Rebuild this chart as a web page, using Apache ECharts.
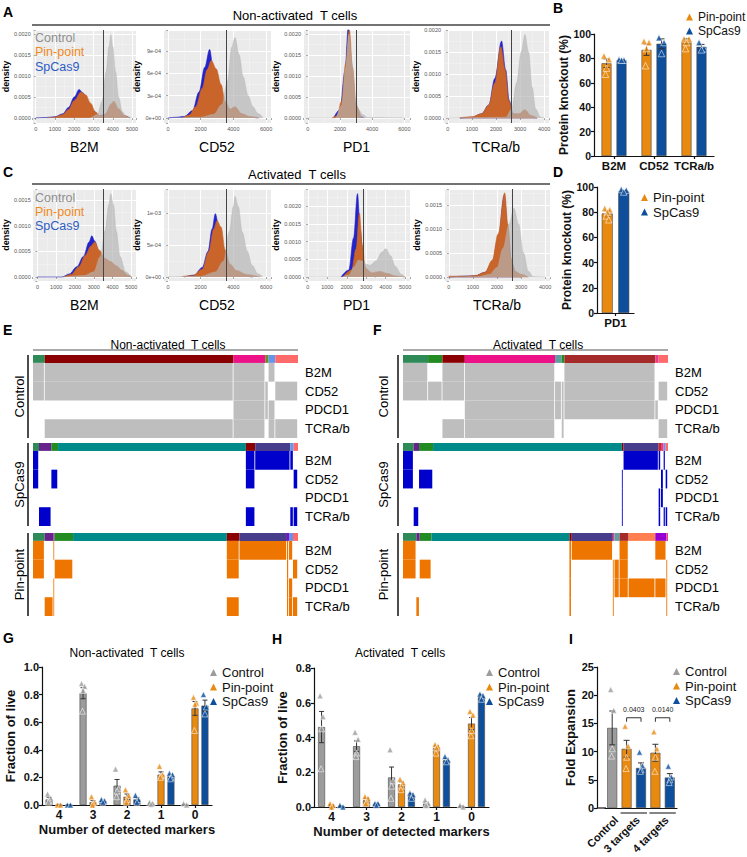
<!DOCTYPE html>
<html>
<head>
<meta charset="utf-8">
<title>Pin-point vs SpCas9 multiplex knockout</title>
<script src="https://cdn.jsdelivr.net/npm/echarts@6/dist/echarts.min.js"></script>
<style>
  html, body { margin: 0; padding: 0; background: #fff; }
  #chart { width: 747px; height: 857px; }
</style>
</head>
<body>
<div id="chart"></div>
<script>
// ---------- data ----------
// density curves [intensity, density], read off panels A (non-activated) and C (activated)
const aB2mCtrl = [[0,0],[2800,0],[3200,0.00008],[3450,0.0004],[3650,0.0011],[3800,0.0017],[3900,0.002],[4000,0.0017],[4150,0.0011],[4300,0.0005],[4500,0.00015],[4700,0.00003],[4950,0]];
const aB2mSp = [[0,0],[500,0.00001],[1000,0.00003],[1400,0.0001],[1700,0.00025],[2000,0.0005],[2250,0.00068],[2450,0.0006],[2700,0.0004],[3000,0.00017],[3300,0.00005],[3600,0.00008],[3900,0.00028],[4050,0.00032],[4300,0.00018],[4600,0.00005],[4900,0]];
const aB2mPin = [[600,0],[1000,0.00002],[1400,0.00008],[1700,0.0002],[2000,0.00042],[2350,0.00062],[2600,0.00055],[2850,0.00035],[3100,0.00014],[3350,0.00005],[3650,0.0001],[3900,0.00033],[4050,0.0004],[4300,0.00022],[4600,0.00006],[4850,0]];

const aCd52Ctrl = [[0,0],[2000,0.00001],[2800,0.00005],[3300,0.00018],[3650,0.0005],[3900,0.00095],[4100,0.00108],[4350,0.00085],[4600,0.00055],[4900,0.0003],[5200,0.00015],[5500,0.00006],[5800,0.00001]];
const aCd52Sp = [[0,0],[500,0.00001],[1000,0.00002],[1500,0.0001],[1900,0.00035],[2250,0.00068],[2550,0.00092],[2800,0.0006],[3100,0.00032],[3400,0.00015],[3800,0.0001],[4100,0.00012],[4500,0.00005],[5000,0.00001],[5500,0]];
const aCd52Pin = [[900,0],[1300,0.00004],[1700,0.00015],[2100,0.0004],[2400,0.00065],[2650,0.00077],[2950,0.00066],[3250,0.00045],[3500,0.00022],[3800,0.00012],[4100,0.00015],[4500,0.00006],[5000,0.00002],[5600,0]];

const aPd1Ctrl = [[0,0],[1700,0],[2100,0.0003],[2350,0.0012],[2550,0.002],[2750,0.0013],[2950,0.0005],[3150,0.0002],[3400,0.00008],[3700,0.00001],[6000,0]];
const aPd1Sp = [[1600,0],[2000,0.0002],[2300,0.0011],[2520,0.0022],[2700,0.0013],[2900,0.0004],[3150,0.00005],[3500,0]];
const aPd1Pin = [[1500,0],[1800,0.00005],[2100,0.0004],[2350,0.0013],[2580,0.0021],[2780,0.0012],[3000,0.0003],[3300,0.00002]];

const aTcrCtrl = [[0,0],[2400,0.00002],[2650,0.0002],[2850,0.0008],[3050,0.0015],[3200,0.0019],[3350,0.0015],[3500,0.0007],[3650,0.0002],[3850,0.00002],[4000,0]];
const aTcrSp = [[500,0],[1000,0.00002],[1400,0.0001],[1700,0.0003],[1950,0.0009],[2230,0.00175],[2400,0.0011],[2550,0.0004],[2700,0.0001],[2950,0.00008],[3200,0.00016],[3450,0.00004],[3700,0]];
const aTcrPin = [[500,0.00001],[1000,0.00003],[1400,0.0001],[1700,0.0003],[1950,0.0008],[2200,0.00162],[2380,0.0011],[2530,0.0004],[2700,0.0001],[2950,0.0001],[3200,0.00019],[3450,0.00006],[3700,0]];

const cB2mCtrl = [[0,0],[1300,0],[2500,0.00003],[3000,0.0001],[3350,0.0004],[3600,0.0009],[3800,0.0014],[3900,0.00162],[4050,0.0014],[4200,0.0009],[4400,0.0004],[4700,0.0001],[5000,0]];
const cB2mSp = [[0,0],[1300,0],[1700,0.00006],[2100,0.0002],[2450,0.0004],[2750,0.00068],[2900,0.0008],[3050,0.0007],[3300,0.00045],[3600,0.00032],[3900,0.00026],[4200,0.0002],[4500,0.00012],[4800,0.00003],[5000,0]];
const cB2mPin = [[1400,0],[1800,0.00005],[2200,0.0002],[2550,0.00042],[2850,0.0006],[3050,0.00068],[3300,0.00052],[3600,0.00036],[3900,0.0003],[4200,0.00022],[4500,0.00013],[4800,0.00004],[5000,0]];

const cCd52Ctrl = [[0,0],[2000,0.00001],[2900,0.00008],[3400,0.00025],[3750,0.0007],[4000,0.0011],[4100,0.00126],[4300,0.0011],[4550,0.0007],[4850,0.0004],[5150,0.00018],[5500,0.00005],[5800,0]];
const cCd52Sp = [[1000,0],[1600,0.00003],[2100,0.00015],[2450,0.0004],[2700,0.00075],[2900,0.00099],[3100,0.0008],[3350,0.0004],[3650,0.00015],[4100,0.00004],[4700,0.00001],[5200,0]];
const cCd52Pin = [[900,0.00001],[1500,0.00002],[2100,0.00012],[2500,0.0004],[2800,0.00075],[3000,0.00088],[3250,0.00078],[3500,0.00042],[3800,0.0002],[4200,0.0001],[4800,0.00004],[5600,0]];

const cPd1Ctrl = [[0,0],[1700,0],[2100,0.00006],[2400,0.0003],[2600,0.00048],[2800,0.00045],[3000,0.00036],[3200,0.00033],[3500,0.00045],[3800,0.0007],[4000,0.0008],[4250,0.0006],[4500,0.0003],[4800,0.00008],[5000,0]];
const cPd1Sp = [[1700,0],[2100,0.0002],[2350,0.0011],[2550,0.00235],[2700,0.0013],[2850,0.0004],[3100,0.00005],[3500,0]];
const cPd1Pin = [[1800,0],[2250,0.0002],[2480,0.0008],[2650,0.0018],[2800,0.0009],[2950,0.00025],[3300,0.00012],[3700,0.00016],[4100,0.0001],[4500,0.00003],[5000,0]];

const cTcrCtrl = [[0,0],[1200,0.00001],[1700,0.00006],[2000,0.0002],[2250,0.0006],[2500,0.0011],[2700,0.00143],[2900,0.0011],[3100,0.0005],[3300,0.00012],[3500,0.00001],[4000,0]];
const cTcrSp = [[0,0],[600,0.00002],[1100,0.00003],[1500,0.0001],[1800,0.0003],[2050,0.0008],[2300,0.0017],[2450,0.001],[2600,0.0003],[2800,0.00006],[3000,0]];
const cTcrPin = [[0,0.00002],[600,0.00002],[1100,0.00003],[1500,0.0001],[1800,0.00035],[2050,0.0009],[2320,0.00175],[2450,0.0011],[2580,0.0004],[2750,0.00012],[3000,0.00006],[3300,0]];

const densityMarkers = ['B2M', 'CD52', 'PD1', 'TCRa/b'];
const cutoffsA = [3500, 3550, 3000, 2650];
const cutoffsC = [3500, 3550, 2850, 2650];

// B / D: protein knockout (%)
const bCats = ['B2M', 'CD52', 'TCRa/b'];
const bPinMean = [76, 87, 94];
const bPinSem = [3.5, 4.5, 2];
const bPinPts = [[82, 79, 72, 67], [94, 93, 88, 74], [96, 96, 93, 88]];
const bSpMean = [78.5, 92, 89.5];
const bSpSem = [0.5, 4, 2];
const bSpPts = [[79, 78.5, 78.5], [97, 93, 84], [93, 88, 87]];
const dCats = ['PD1'];
const dPinMean = [79];
const dPinSem = [2];
const dPinPts = [[83, 82, 80, 77, 74]];
const dSpMean = [96.5];
const dSpSem = [0.7];
const dSpPts = [[98, 97.5, 96]];

// E / F: per-cluster marker detection (cluster edges, cluster colour, presence per marker row)
const hmRows = ['B2M', 'CD52', 'PDCD1', 'TCRa/b'];
const eCtrlEdges = [0, 35, 600, 695, 705, 725, 793];
const eCtrlColors = ['#2E8B57', '#8B0000', '#EE1289', '#6B8E23', '#6495ED', '#FF6A6A'];
const eCtrlB2m = [1, 1, 1, 0, 1, 0];
const eCtrlCd52 = [1, 1, 1, 1, 0, 1];
const eCtrlPd1 = [0, 0, 1, 1, 1, 0];
const eCtrlTcr = [0, 1, 1, 0, 1, 1];

const eSpEdges = [0, 18, 55, 75, 637, 665, 770, 780, 793];
const eSpColors = ['#2E8B57', '#68228B', '#228B22', '#008B8B', '#8B0000', '#483D8B', '#6495ED', '#FF6A6A'];
const eSpB2m = [1, 0, 0, 0, 1, 1, 1, 0];
const eSpCd52 = [1, 0, 1, 0, 1, 0, 0, 1];
const eSpPd1 = [0, 0, 0, 0, 0, 0, 0, 0];
const eSpTcr = [0, 1, 0, 0, 1, 0, 1, 1];

const ePinEdges = [0, 35, 61, 65, 120, 580, 618, 760, 766, 778, 793];
const ePinColors = ['#2E8B57', '#68228B', '#8B3A8B', '#228B22', '#008B8B', '#8B0000', '#483D8B', '#9400D3', '#6495ED', '#FF6A6A'];
const ePinB2m = [1, 0, 1, 0, 0, 1, 1, 1, 1, 0];
const ePinCd52 = [1, 0, 0, 1, 0, 1, 0, 1, 0, 1];
const ePinPd1 = [0, 0, 1, 0, 0, 0, 0, 1, 1, 0];
const ePinTcr = [0, 1, 1, 0, 0, 1, 0, 1, 1, 1];

const fCtrlEdges = [0, 75, 118, 185, 455, 475, 483, 755, 765, 793];
const fCtrlColors = ['#2E8B57', '#228B22', '#8B0000', '#EE1289', '#5F9EA0', '#228B22', '#A52A2A', '#EE3A8C', '#FF6A6A'];
const fCtrlB2m = [1, 0, 1, 1, 0, 0, 1, 0, 0];
const fCtrlCd52 = [1, 1, 1, 1, 1, 1, 1, 0, 1];
const fCtrlPd1 = [0, 0, 0, 1, 1, 1, 1, 1, 0];
const fCtrlTcr = [0, 0, 1, 1, 0, 1, 0, 0, 1];

const fSpEdges = [0, 32, 48, 90, 655, 660, 765, 772, 780, 786, 793];
const fSpColors = ['#2E8B57', '#68228B', '#228B22', '#008B8B', '#8B0000', '#483D8B', '#CD2626', '#EE3A8C', '#6495ED', '#FF6A6A'];
const fSpB2m = [1, 0, 0, 0, 0, 1, 1, 0, 1, 0];
const fSpCd52 = [1, 0, 1, 0, 1, 0, 0, 1, 0, 1];
const fSpPd1 = [0, 0, 0, 0, 1, 0, 1, 1, 0, 0];
const fSpTcr = [0, 1, 0, 0, 1, 0, 1, 0, 1, 1];

const fPinEdges = [0, 40, 50, 85, 498, 505, 628, 633, 648, 675, 755, 788, 793];
const fPinColors = ['#2E8B57', '#68228B', '#228B22', '#008B8B', '#8B0000', '#483D8B', '#EE3A8C', '#5F9EA0', '#A52A2A', '#FF7F50', '#9400D3', '#EE3A8C'];
const fPinB2m = [1, 0, 0, 0, 1, 1, 0, 0, 1, 0, 1, 0];
const fPinCd52 = [1, 0, 1, 0, 1, 0, 1, 1, 1, 0, 0, 1];
const fPinPd1 = [0, 0, 0, 0, 1, 0, 1, 1, 1, 1, 1, 1];
const fPinTcr = [0, 1, 0, 0, 1, 0, 1, 0, 0, 0, 0, 1];

// G / H: fraction of live cells by number of detected markers
const markerCounts = ['4', '3', '2', '1', '0'];
const gCtrlMean = [0.04, 0.81, 0.14, 0.01, 0.003];
const gCtrlSem = [0.015, 0.04, 0.045, 0.005, 0.002];
const gCtrlPts = [[0.08, 0.05, 0.03, 0.02], [0.88, 0.86, 0.83, 0.68], [0.26, 0.12, 0.1, 0.06], [0.02, 0.01, 0.005], [0.01, 0.0]];
const gPinMean = [0.003, 0.02, 0.06, 0.22, 0.70];
const gPinSem = [0.002, 0.012, 0.02, 0.02, 0.05];
const gPinPts = [[0.0, 0.0], [0.06, 0.02, 0.01, 0.0], [0.11, 0.07, 0.04, 0.02], [0.28, 0.22, 0.21, 0.2], [0.78, 0.74, 0.73, 0.54]];
const gSpMean = [0.002, 0.03, 0.04, 0.21, 0.72];
const gSpSem = [0.001, 0.006, 0.015, 0.01, 0.04];
const gSpPts = [[0.0, 0.0], [0.04, 0.03, 0.02], [0.07, 0.04, 0.02], [0.23, 0.22, 0.2, 0.19], [0.8, 0.71, 0.66]];

const hCtrlMean = [0.46, 0.35, 0.17, 0.02, 0.004];
const hCtrlSem = [0.09, 0.03, 0.06, 0.008, 0.002];
const hCtrlPts = [[0.64, 0.52, 0.45, 0.22], [0.43, 0.39, 0.31, 0.29], [0.33, 0.15, 0.12, 0.05], [0.04, 0.02, 0.01, 0.01], [0.01, 0.0]];
const hPinMean = [0.01, 0.04, 0.13, 0.34, 0.48];
const hPinSem = [0.004, 0.01, 0.015, 0.012, 0.035];
const hPinPts = [[0.02, 0.01, 0.0], [0.06, 0.05, 0.03, 0.02], [0.16, 0.14, 0.12, 0.1], [0.36, 0.35, 0.34, 0.31], [0.55, 0.53, 0.44, 0.41]];
const hSpMean = [0.005, 0.02, 0.07, 0.27, 0.64];
const hSpSem = [0.002, 0.003, 0.008, 0.01, 0.008];
const hSpPts = [[0.01, 0.0], [0.02, 0.02, 0.01], [0.08, 0.07, 0.05], [0.29, 0.27, 0.26], [0.65, 0.64, 0.62]];

// I: fold expansion
const iBars = ['Control', 'Pin-point 3', 'SpCas9 3', 'Pin-point 4', 'SpCas9 4'];
const iCtrlMean = [14.2, null, null, null, null];
const iCtrlSem = [3.0, 0, 0, 0, 0];
const iCtrlPts = [[21, 17.3, 10.5, 9.2], [], [], [], []];
const iPinMean = [null, 10.5, null, 9.8, null];
const iPinSem = [0, 1.5, 0, 1.5, 0];
const iPinPts = [[], [14.5, 11, 9, 7], [], [13.5, 10.5, 9, 6.5], []];
const iSpMean = [null, null, 7.1, null, 5.4];
const iSpSem = [0, 0, 0.9, 0, 0.7];
const iSpPts = [[], [], [9.9, 7.5, 6.8, 6.5], [], [7.4, 5.5, 5.0, 4.5]];
const iGroups = [[0, 0], [1, 2], [3, 4]];
const iGroupNames = ['Control', '3 targets', '4 targets'];
const iBrackets = [[1, 2, 16], [3, 4, 16]];
const iPvals = ['0.0403', '0.0140'];

// ---------- style ----------
const FONT = '"Liberation Sans", Arial, sans-serif';
const C_GREY = '#9C9C9C', C_ORANGE = '#E98A10', C_BLUE = '#0D4F9D';
const D_GREY = '#B4B4B4', D_ORANGE = '#C9642A', D_BLUE = '#2424C8';
const HM_GREY = '#BEBEBE', HM_BLUE = '#0000CD', HM_ORANGE = '#EE7600';
const BAR_H = 0.42;
const jitter = [-2.5, 2.5, 0, -1, 1.5];

const grids = [], xAxes = [], yAxes = [], series = [], legends = [], graphic = [];

function addGrid(box, extra) {
  grids.push(Object.assign({ left: box[0], top: box[1], width: box[2], height: box[3] }, extra || {}));
  return grids.length - 1;
}

function onStep(step) {
  return v => Math.abs(v / step - Math.round(v / step)) < 1e-6 && v >= 0;
}

function sci(v) {
  if (v === 0) return '0e+00';
  const e = Math.floor(Math.log10(Math.abs(v)) + 1e-9);
  const m = Math.round(v / Math.pow(10, e));
  return m + 'e-' + String(-e).padStart(2, '0');
}

// ggplot style density panel
function densityPanel(box, xr, xSplit, xStep, yr, ySplit, yStep, sciLabels, marker, yNameGap, curves, cut) {
  const g = addGrid(box, { show: true, backgroundColor: '#EBEBEB', borderWidth: 0 });
  const okX = onStep(xStep), okY = onStep(yStep);
  const gridLine = { show: true, lineStyle: { color: '#FFFFFF', width: 1 } };
  const minorLine = { show: true, lineStyle: { color: '#F5F5F5', width: 0.5 } };
  xAxes.push({
    gridIndex: g, type: 'value', min: xr[0], max: xr[1], splitNumber: xSplit,
    name: marker, nameLocation: 'middle', nameGap: 17,
    nameTextStyle: { fontSize: 14, color: '#000', fontFamily: FONT },
    axisLine: { show: false },
    axisTick: { show: true, length: 2, lineStyle: { color: '#666', width: 0.6 } },
    axisLabel: { fontSize: 5.5, color: '#555', margin: 3, fontFamily: FONT, formatter: v => okX(v) ? String(v) : '' },
    splitLine: gridLine, minorTick: { show: false, splitNumber: 2 }, minorSplitLine: minorLine
  });
  yAxes.push({
    gridIndex: g, type: 'value', min: yr[0], max: yr[1], splitNumber: ySplit,
    name: 'density', nameLocation: 'middle', nameGap: yNameGap,
    nameTextStyle: { fontSize: 9, fontWeight: 'bold', color: '#000', fontFamily: FONT },
    axisLine: { show: false },
    axisTick: { show: true, length: 2, lineStyle: { color: '#666', width: 0.6 } },
    axisLabel: { fontSize: 5.5, color: '#555', margin: 2, fontFamily: FONT,
      formatter: v => okY(v) ? (sciLabels ? sci(v) : v.toFixed(4)) : '' },
    splitLine: gridLine, minorTick: { show: false, splitNumber: 2 }, minorSplitLine: minorLine
  });
  const layers = [[curves[2], D_BLUE, 1], [curves[1], D_ORANGE, 1], [curves[0], D_GREY, 0.68]];
  layers.forEach(([pts, color, alpha], k) => {
    const s = {
      type: 'line', xAxisIndex: g, yAxisIndex: g, data: pts, smooth: 0.35, smoothMonotone: 'x',
      showSymbol: false, silent: true, z: 2 + k,
      lineStyle: { color: color, width: 0.6, opacity: alpha },
      itemStyle: { color: color },
      areaStyle: { color: color, opacity: alpha }
    };
    if (k === 2) {
      s.markLine = { silent: true, symbol: 'none', label: { show: false },
        lineStyle: { color: '#444', width: 1, type: 'solid' }, data: [{ xAxis: cut }] };
    }
    series.push(s);
  });
}

function errRender(dx, cap) {
  return (params, api) => {
    const lo = api.coord([api.value(0), api.value(1)]);
    const hi = api.coord([api.value(0), api.value(2)]);
    const x = lo[0] + dx;
    const st = { stroke: '#333', lineWidth: 1 };
    return { type: 'group', children: [
      { type: 'line', shape: { x1: x, y1: lo[1], x2: x, y2: hi[1] }, style: st },
      { type: 'line', shape: { x1: x - cap, y1: hi[1], x2: x + cap, y2: hi[1] }, style: st },
      { type: 'line', shape: { x1: x - cap, y1: lo[1], x2: x + cap, y2: lo[1] }, style: st }
    ] };
  };
}

// GraphPad style bar + points panel
function barPanel(cfg) {
  const g = addGrid(cfg.box);
  const ax = { color: '#111', width: 1.2 };
  xAxes.push({
    gridIndex: g, type: 'category', data: cfg.cats,
    axisLine: { lineStyle: ax },
    axisTick: { show: cfg.xTicks !== false, alignWithLabel: true, length: 3, lineStyle: ax },
    axisLabel: { show: cfg.xLabels !== false, interval: 0, fontSize: cfg.xSize, fontWeight: 'bold', color: '#111', margin: 4, fontFamily: FONT },
    name: cfg.xName || '', nameLocation: 'middle', nameGap: 18,
    nameTextStyle: { fontSize: 13, fontWeight: 'bold', color: '#111', fontFamily: FONT }
  });
  yAxes.push({
    gridIndex: g, type: 'value', min: 0, max: cfg.yMax, interval: cfg.yStep, offset: cfg.yOffset || 0,
    axisLine: { show: true, lineStyle: ax },
    axisTick: { show: true, length: 3, lineStyle: ax },
    axisLabel: { fontSize: cfg.ySize, fontWeight: 'bold', color: '#111', margin: 3, fontFamily: FONT,
      formatter: v => v.toFixed(cfg.yDigits) },
    splitLine: { show: false },
    name: cfg.yName, nameLocation: 'middle', nameGap: cfg.yNameGap,
    nameTextStyle: { fontSize: cfg.yNameSize, fontWeight: 'bold', color: '#111', fontFamily: FONT }
  });
  const n = cfg.groups.length;
  cfg.groups.forEach((grp, i) => {
    const dx = cfg.overlap ? 0 : (i - (n - 1) / 2) * cfg.bw * (1 + cfg.gap);
    series.push({
      type: 'bar', name: grp.name, xAxisIndex: g, yAxisIndex: g, silent: true, z: 2,
      data: grp.means.map(m => m == null ? '-' : m),
      barWidth: cfg.bw, barGap: cfg.overlap ? '-100%' : (cfg.gap * 100) + '%',
      itemStyle: { color: grp.color, borderColor: '#4A4A4A', borderWidth: 0.6 }
    });
    const err = [];
    grp.means.forEach((m, k) => { if (m != null) err.push([k, m - grp.sems[k], m + grp.sems[k]]); });
    series.push({ type: 'custom', xAxisIndex: g, yAxisIndex: g, silent: true, z: 3,
      data: err, renderItem: errRender(dx, cfg.cap) });
    const pts = [];
    grp.pts.forEach((list, k) => list.forEach((v, j) => {
      pts.push({ value: [k, v], symbolOffset: [dx + jitter[j % jitter.length] * cfg.spread, 0] });
    }));
    series.push({
      type: 'scatter', name: grp.name, xAxisIndex: g, yAxisIndex: g, silent: true, z: 4,
      data: pts, symbol: 'triangle', symbolSize: cfg.tri,
      itemStyle: { color: grp.color, borderColor: 'rgba(255,255,255,0.85)', borderWidth: 0.8 }
    });
  });
  return g;
}

function rectRender(gap) {
  return (params, api) => {
    const p0 = api.coord([api.value(0), api.value(2)]);
    const p1 = api.coord([api.value(1), api.value(3)]);
    return { type: 'rect',
      shape: { x: p0[0], y: p0[1], width: Math.max(p1[0] - p0[0] - gap, 0.8), height: p1[1] - p0[1] },
      style: api.style() };
  };
}

function heatBlock(box, edges, colors, rows, fill) {
  const g = addGrid(box);
  const last = edges[edges.length - 1];
  xAxes.push({ gridIndex: g, type: 'value', min: edges[0], max: last, show: false });
  yAxes.push({ gridIndex: g, type: 'value', min: 0, max: BAR_H + rows.length, inverse: true, show: false });
  const barData = colors.map((c, k) => ({ value: [edges[k], edges[k + 1], 0, BAR_H], itemStyle: { color: c } }));
  const cells = [];
  rows.forEach((row, r) => row.forEach((on, k) => {
    if (on) cells.push([edges[k], edges[k + 1], BAR_H + r, BAR_H + r + 1]);
  }));
  series.push({ type: 'custom', xAxisIndex: g, yAxisIndex: g, silent: true, data: barData, renderItem: rectRender(0) });
  series.push({ type: 'custom', xAxisIndex: g, yAxisIndex: g, silent: true, data: cells,
    itemStyle: { color: fill }, renderItem: rectRender(0.8) });
  series.push({ type: 'custom', xAxisIndex: g, yAxisIndex: g, silent: true,
    data: hmRows.map((nm, r) => [last, BAR_H + r + 0.5]),
    renderItem: (params, api) => {
      const p = api.coord([api.value(0), api.value(1)]);
      return { type: 'text', x: p[0] + 7, y: p[1],
        style: { text: hmRows[params.dataIndex], fill: '#000', fontSize: 13, fontFamily: FONT, align: 'left', verticalAlign: 'middle' } };
    } });
}

function text(x, y, str, style, rotation) {
  graphic.push({ type: 'text', x: x, y: y, z: 100, rotation: rotation || 0, silent: true,
    style: Object.assign({ text: str, fill: '#000', fontSize: 12, fontFamily: FONT, align: 'center', verticalAlign: 'middle' }, style || {}) });
}
function line(x1, y1, x2, y2, w, color) {
  graphic.push({ type: 'line', z: 100, silent: true, shape: { x1: x1, y1: y1, x2: x2, y2: y2 }, style: { stroke: color || '#333', lineWidth: w || 1 } });
}
function addLegend(names, left, top, size, gap) {
  legends.push({ show: true, orient: 'vertical', left: left, top: top, data: names, icon: 'triangle',
    itemWidth: 7, itemHeight: 7, itemGap: gap, padding: 0, selectedMode: false,
    itemStyle: { borderWidth: 0 },
    textStyle: { fontSize: size, lineHeight: size, color: '#111', fontFamily: FONT } });
}

// ---------- A and C ----------
const densityBoxesA = [[32, 30, 104, 93], [163, 30, 108, 93], [303, 30, 107, 93], [443, 30, 106, 93]];
const densityBoxesC = [[30, 189, 106, 92], [163, 189, 108, 92], [303, 189, 107, 92], [444, 189, 106, 92]];
const curvesA = [[aB2mCtrl, aB2mPin, aB2mSp], [aCd52Ctrl, aCd52Pin, aCd52Sp], [aPd1Ctrl, aPd1Pin, aPd1Sp], [aTcrCtrl, aTcrPin, aTcrSp]];
const curvesC = [[cB2mCtrl, cB2mPin, cB2mSp], [cCd52Ctrl, cCd52Pin, cCd52Sp], [cPd1Ctrl, cPd1Pin, cPd1Sp], [cTcrCtrl, cTcrPin, cTcrSp]];

densityPanel(densityBoxesA[0], [-155, 5205], 5, 1000, [-0.00012, 0.0021], 5, 0.0005, false, densityMarkers[0], 22, curvesA[0], cutoffsA[0]);
densityPanel(densityBoxesA[1], [-300, 6300], 3, 2000, [-0.000067, 0.00118], 4, 0.0003, true, densityMarkers[1], 17, curvesA[1], cutoffsA[1]);
densityPanel(densityBoxesA[2], [-300, 6350], 3, 2000, [-0.00012, 0.0021], 5, 0.0005, false, densityMarkers[2], 22, curvesA[2], cutoffsA[2]);
densityPanel(densityBoxesA[3], [-200, 4200], 5, 1000, [-0.00011, 0.002], 5, 0.0005, false, densityMarkers[3], 22, curvesA[3], cutoffsA[3]);

densityPanel(densityBoxesC[0], [-250, 5250], 5, 1000, [-0.000078, 0.00171], 4, 0.0005, false, densityMarkers[0], 22, curvesC[0], cutoffsC[0]);
densityPanel(densityBoxesC[1], [-300, 6300], 3, 2000, [-0.0000625, 0.001375], 3, 0.0005, true, densityMarkers[1], 17, curvesC[1], cutoffsC[1]);
densityPanel(densityBoxesC[2], [-250, 5250], 5, 1000, [-0.00011, 0.00248], 5, 0.0005, false, densityMarkers[2], 22, curvesC[2], cutoffsC[2]);
densityPanel(densityBoxesC[3], [-200, 4200], 5, 1000, [-0.00008, 0.00183], 4, 0.0005, false, densityMarkers[3], 22, curvesC[3], cutoffsC[3]);

// ---------- B and D ----------
barPanel({ box: [594, 34, 120, 122], cats: bCats, yMax: 100, yStep: 20, yDigits: 0, ySize: 10.5, xSize: 11.5,
  yName: 'Protein knockout (%)', yNameGap: 21, yNameSize: 12, bw: 10, gap: 0.5, cap: 3, tri: 6.5, spread: 1,
  groups: [
    { name: 'Pin-point', color: C_ORANGE, means: bPinMean, sems: bPinSem, pts: bPinPts },
    { name: 'SpCas9', color: C_BLUE, means: bSpMean, sems: bSpSem, pts: bSpPts }
  ] });
barPanel({ box: [597, 187, 37, 126], cats: dCats, yMax: 100, yStep: 20, yDigits: 0, ySize: 10.5, xSize: 11.5,
  yName: 'Protein knockout (%)', yNameGap: 21, yNameSize: 12, bw: 11, gap: 0.5, cap: 3, tri: 6.5, spread: 1,
  groups: [
    { name: 'Pin-point', color: C_ORANGE, means: dPinMean, sems: dPinSem, pts: dPinPts },
    { name: 'SpCas9', color: C_BLUE, means: dSpMean, sems: dSpSem, pts: dSpPts }
  ] });
addLegend(['Pin-point', 'SpCas9'], 686, 11, 12, 2);
addLegend(['Pin-point', 'SpCas9'], 641, 191, 13, 1.5);

// ---------- E and F ----------
const blockTops = [355, 443, 533];
const blockH = 83;
heatBlock([33, blockTops[0], 265, blockH], eCtrlEdges, eCtrlColors, [eCtrlB2m, eCtrlCd52, eCtrlPd1, eCtrlTcr], HM_GREY);
heatBlock([33, blockTops[1], 265, blockH], eSpEdges, eSpColors, [eSpB2m, eSpCd52, eSpPd1, eSpTcr], HM_BLUE);
heatBlock([33, blockTops[2], 265, blockH], ePinEdges, ePinColors, [ePinB2m, ePinCd52, ePinPd1, ePinTcr], HM_ORANGE);
heatBlock([403, blockTops[0], 265, blockH], fCtrlEdges, fCtrlColors, [fCtrlB2m, fCtrlCd52, fCtrlPd1, fCtrlTcr], HM_GREY);
heatBlock([403, blockTops[1], 265, blockH], fSpEdges, fSpColors, [fSpB2m, fSpCd52, fSpPd1, fSpTcr], HM_BLUE);
heatBlock([403, blockTops[2], 265, blockH], fPinEdges, fPinColors, [fPinB2m, fPinCd52, fPinPd1, fPinTcr], HM_ORANGE);

const groupNames = ['Control', 'SpCas9', 'Pin-point'];
groupNames.forEach((nm, b) => {
  const y0 = blockTops[b], y1 = blockTops[b] + blockH;
  line(28, y0, 28, y1, 1.5, '#111');
  text(19, (y0 + y1) / 2, nm, { fontSize: 13 }, Math.PI / 2);
  line(398, y0, 398, y1, 1.5, '#111');
  text(383, (y0 + y1) / 2, nm, { fontSize: 13 }, Math.PI / 2);
});

// ---------- G, H, I ----------
barPanel({ box: [42, 667, 170, 138], cats: markerCounts, yMax: 1.0, yStep: 0.2, yDigits: 1, ySize: 11, xSize: 12,
  yName: 'Fraction of live', yNameGap: 25, yNameSize: 13, xName: 'Number of detected markers',
  bw: 7, gap: 0.42, cap: 2.5, tri: 6, spread: 0.6,
  groups: [
    { name: 'Control', color: C_GREY, means: gCtrlMean, sems: gCtrlSem, pts: gCtrlPts },
    { name: 'Pin-point', color: C_ORANGE, means: gPinMean, sems: gPinSem, pts: gPinPts },
    { name: 'SpCas9', color: C_BLUE, means: gSpMean, sems: gSpSem, pts: gSpPts }
  ] });
barPanel({ box: [314, 668, 175, 139], cats: markerCounts, yMax: 0.8, yStep: 0.2, yDigits: 1, ySize: 11, xSize: 12,
  yName: 'Fraction of live', yNameGap: 25, yNameSize: 13, xName: 'Number of detected markers',
  bw: 7, gap: 0.42, cap: 2.5, tri: 6, spread: 0.6,
  groups: [
    { name: 'Control', color: C_GREY, means: hCtrlMean, sems: hCtrlSem, pts: hCtrlPts },
    { name: 'Pin-point', color: C_ORANGE, means: hPinMean, sems: hPinSem, pts: hPinPts },
    { name: 'SpCas9', color: C_BLUE, means: hSpMean, sems: hSpSem, pts: hSpPts }
  ] });
const gI = barPanel({ box: [605, 667, 72, 141], cats: iBars, yMax: 25, yStep: 5, yDigits: 0, yOffset: 8, ySize: 11, xSize: 11,
  yName: 'Fold Expansion', yNameGap: 20, yNameSize: 13, xLabels: false, xTicks: false, overlap: true,
  bw: 10, gap: 0, cap: 3, tri: 6, spread: 0.6,
  groups: [
    { name: 'Control', color: C_GREY, means: iCtrlMean, sems: iCtrlSem, pts: iCtrlPts },
    { name: 'Pin-point', color: C_ORANGE, means: iPinMean, sems: iPinSem, pts: iPinPts },
    { name: 'SpCas9', color: C_BLUE, means: iSpMean, sems: iSpSem, pts: iSpPts }
  ] });
series.push({ type: 'custom', xAxisIndex: gI, yAxisIndex: gI, silent: true, z: 5, data: iBrackets,
  renderItem: (params, api) => {
    const a = api.coord([api.value(0), api.value(2)]);
    const b = api.coord([api.value(1), api.value(2)]);
    return { type: 'group', children: [
      { type: 'polyline', shape: { points: [[a[0], a[1] + 4], [a[0], a[1]], [b[0], b[1]], [b[0], b[1] + 4]] },
        style: { stroke: '#333', fill: null, lineWidth: 1 } },
      { type: 'text', x: (a[0] + b[0]) / 2, y: a[1] - 8,
        style: { text: iPvals[params.dataIndex], fill: '#222', fontSize: 7, fontFamily: FONT, align: 'center', verticalAlign: 'middle' } }
    ] };
  } });
series.push({ type: 'custom', xAxisIndex: gI, yAxisIndex: gI, silent: true, z: 5, data: iGroups.map(p => [p[0], p[1], 0]),
  renderItem: (params, api) => {
    const a = api.coord([api.value(0), 0]);
    const b = api.coord([api.value(1), 0]);
    const kids = [];
    if (api.value(1) > api.value(0)) {
      kids.push({ type: 'line', shape: { x1: a[0] - 6, y1: a[1] + 5, x2: b[0] + 6, y2: a[1] + 5 }, style: { stroke: '#333', lineWidth: 1.2 } });
    }
    kids.push({ type: 'text', x: (a[0] + b[0]) / 2 + 4, y: a[1] + 10, rotation: Math.PI / 4,
      style: { text: iGroupNames[params.dataIndex], fill: '#111', fontSize: 11, fontWeight: 'bold', fontFamily: FONT, align: 'right', verticalAlign: 'middle' } });
    return { type: 'group', children: kids };
  } });
line(597, 808, 606, 808, 1.2, '#111');

addLegend(['Control', 'Pin-point', 'SpCas9'], 210, 666, 13, 1.5);
addLegend(['Control', 'Pin-point', 'SpCas9'], 486, 666, 13, 1.5);
addLegend(['Control', 'Pin-point', 'SpCas9'], 673, 665, 13, 1.5);

// ---------- titles, letters, rules ----------
const letters = [['A', 3, 12], ['B', 553, 8], ['C', 3, 172], ['D', 553, 172], ['E', 3, 330], ['F', 373, 330], ['G', 3, 638], ['H', 272, 639], ['I', 569, 639]];
letters.forEach(([t, x, y]) => text(x, y, t, { fontSize: 14, fontWeight: 'bold', align: 'left' }));

text(295, 15, 'Non-activated  T cells', { fontSize: 13 });
line(32, 25, 550, 25, 1.5, '#444');
text(297, 174, 'Activated  T cells', { fontSize: 13 });
line(32, 184, 550, 184, 1.5, '#444');

const legendYA = [38, 52, 67], legendYC = [198, 212, 226];
const densLegend = [['Control', '#8E8E8E'], ['Pin-point', '#EE8A26'], ['SpCas9', '#2E5CC4']];
densLegend.forEach(([nm, col], k) => {
  text(35, legendYA[k], nm, { fontSize: 12.5, fill: col, align: 'left' });
  text(35, legendYC[k], nm, { fontSize: 12.5, fill: col, align: 'left' });
});

text(168, 345, 'Non-activated  T cells', { fontSize: 12 });
line(33, 350, 298, 350, 1.2, '#555');
text(538, 345, 'Activated  T cells', { fontSize: 12 });
line(403, 350, 668, 350, 1.2, '#555');

text(127, 653, 'Non-activated  T cells', { fontSize: 12 });
text(400, 653, 'Activated  T cells', { fontSize: 12 });

// ---------- chart ----------
const chart = echarts.init(document.getElementById('chart'), null, { renderer: 'svg' });
chart.setOption({
  animation: false,
  backgroundColor: '#FFFFFF',
  textStyle: { fontFamily: FONT },
  grid: grids,
  xAxis: xAxes,
  yAxis: yAxes,
  legend: legends,
  series: series,
  graphic: graphic
});
</script>
</body>
</html>
